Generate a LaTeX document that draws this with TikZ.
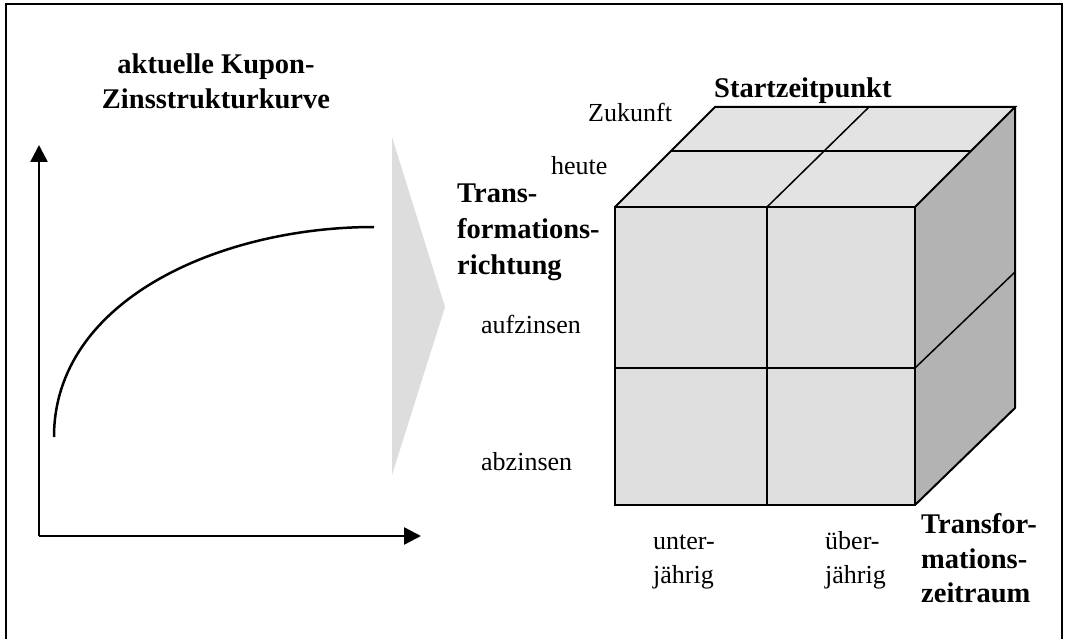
\documentclass[tikz,border=0pt]{standalone}
\usepackage{fontspec}
\setmainfont{Liberation Serif}
\usetikzlibrary{arrows.meta}
\definecolor{topc}{HTML}{E3E3E3}
\definecolor{frontc}{HTML}{DEDEDE}
\definecolor{sidec}{HTML}{B3B3B3}
\definecolor{chev}{HTML}{DDDDDD}
\tikzset{
  edge/.style={line width=2pt, line join=miter},
  grid/.style={line width=1.5pt},
  axis/.style={line width=2.5pt, -{Triangle[length=17pt,width=17pt]}},
  reg/.style={inner sep=0pt, anchor=base west, font=\fontsize{26}{34}\selectfont},
  bld/.style={inner sep=0pt, anchor=base west, font=\fontsize{28.5}{35}\selectfont\bfseries},
}
\begin{document}
\begin{tikzpicture}[x=1pt,y=-1pt]
\useasboundingbox (0,0) rectangle (1066,639);
% outer frame
\draw[line width=2pt] (6,639) -- (6,4) -- (1062,4) -- (1062,639);

% left chart
\coordinate (o) at (39,536);
\coordinate (ytip) at (39,145);
\coordinate (xtip) at (421,536);
\draw[axis] (o) -- (ytip);
\draw[axis] (o) -- (xtip);
\coordinate (c0) at (54,437);
\coordinate (c3) at (374,227);
\draw[line width=2.5pt] (c0) .. controls (54,300) and (220,227) .. (c3);
\node[bld, anchor=base] (t1) at (216,74) {aktuelle Kupon-};
\node[bld, anchor=base] (t2) at (216,109) {Zinsstrukturkurve};

% chevron
\fill[chev] (392,137) -- (445,307) -- (392,475) -- cycle;

% cube
\coordinate (A) at (615,207);
\coordinate (B) at (915,207);
\coordinate (C) at (915,505);
\coordinate (D) at (615,505);
\coordinate (E) at (715,107);
\coordinate (F) at (1015,107);
\coordinate (G) at (1015,408);
\fill[topc] (A) -- (E) -- (F) -- (B) -- cycle;
\fill[frontc] (A) -- (B) -- (C) -- (D) -- cycle;
\fill[sidec] (B) -- (F) -- (G) -- (C) -- cycle;
% grid lines
\draw[grid] (767,207) -- (767,505);
\draw[grid] (615,368) -- (915,368);
\draw[grid] (671,151) -- (971,151);
\draw[grid] (767,207) -- (869,107);
\draw[grid] (915,368) -- (1015,272);
% edges
\draw[edge] (A) -- (B) -- (C) -- (D) -- cycle;
\draw[edge] (A) -- (E) -- (F) -- (B);
\draw[edge] (F) -- (G) -- (C);

% labels
\node[bld] (st) at (714,98) {Startzeitpunkt};
\node[reg] (zu) at (588,122) {Zukunft};
\node[reg] (he) at (551,175) {heute};
\node[bld] (tr1) at (457,203) {Trans-};
\node[bld] (tr2) at (457,239) {formations-};
\node[bld] (tr3) at (457,275) {richtung};
\node[reg] (au) at (481,333) {aufzinsen};
\node[reg] (ab) at (481,470) {abzinsen};
\node[reg] (u1) at (653,549) {unter-};
\node[reg] (u2) at (653,583) {jährig};
\node[reg] (b1) at (825,549) {über-};
\node[reg] (b2) at (825,583) {jährig};
\node[bld] (z1) at (921,533) {Transfor-};
\node[bld] (z2) at (921,568) {mations-};
\node[bld] (z3) at (921,602) {zeitraum};
\end{tikzpicture}
\end{document}
